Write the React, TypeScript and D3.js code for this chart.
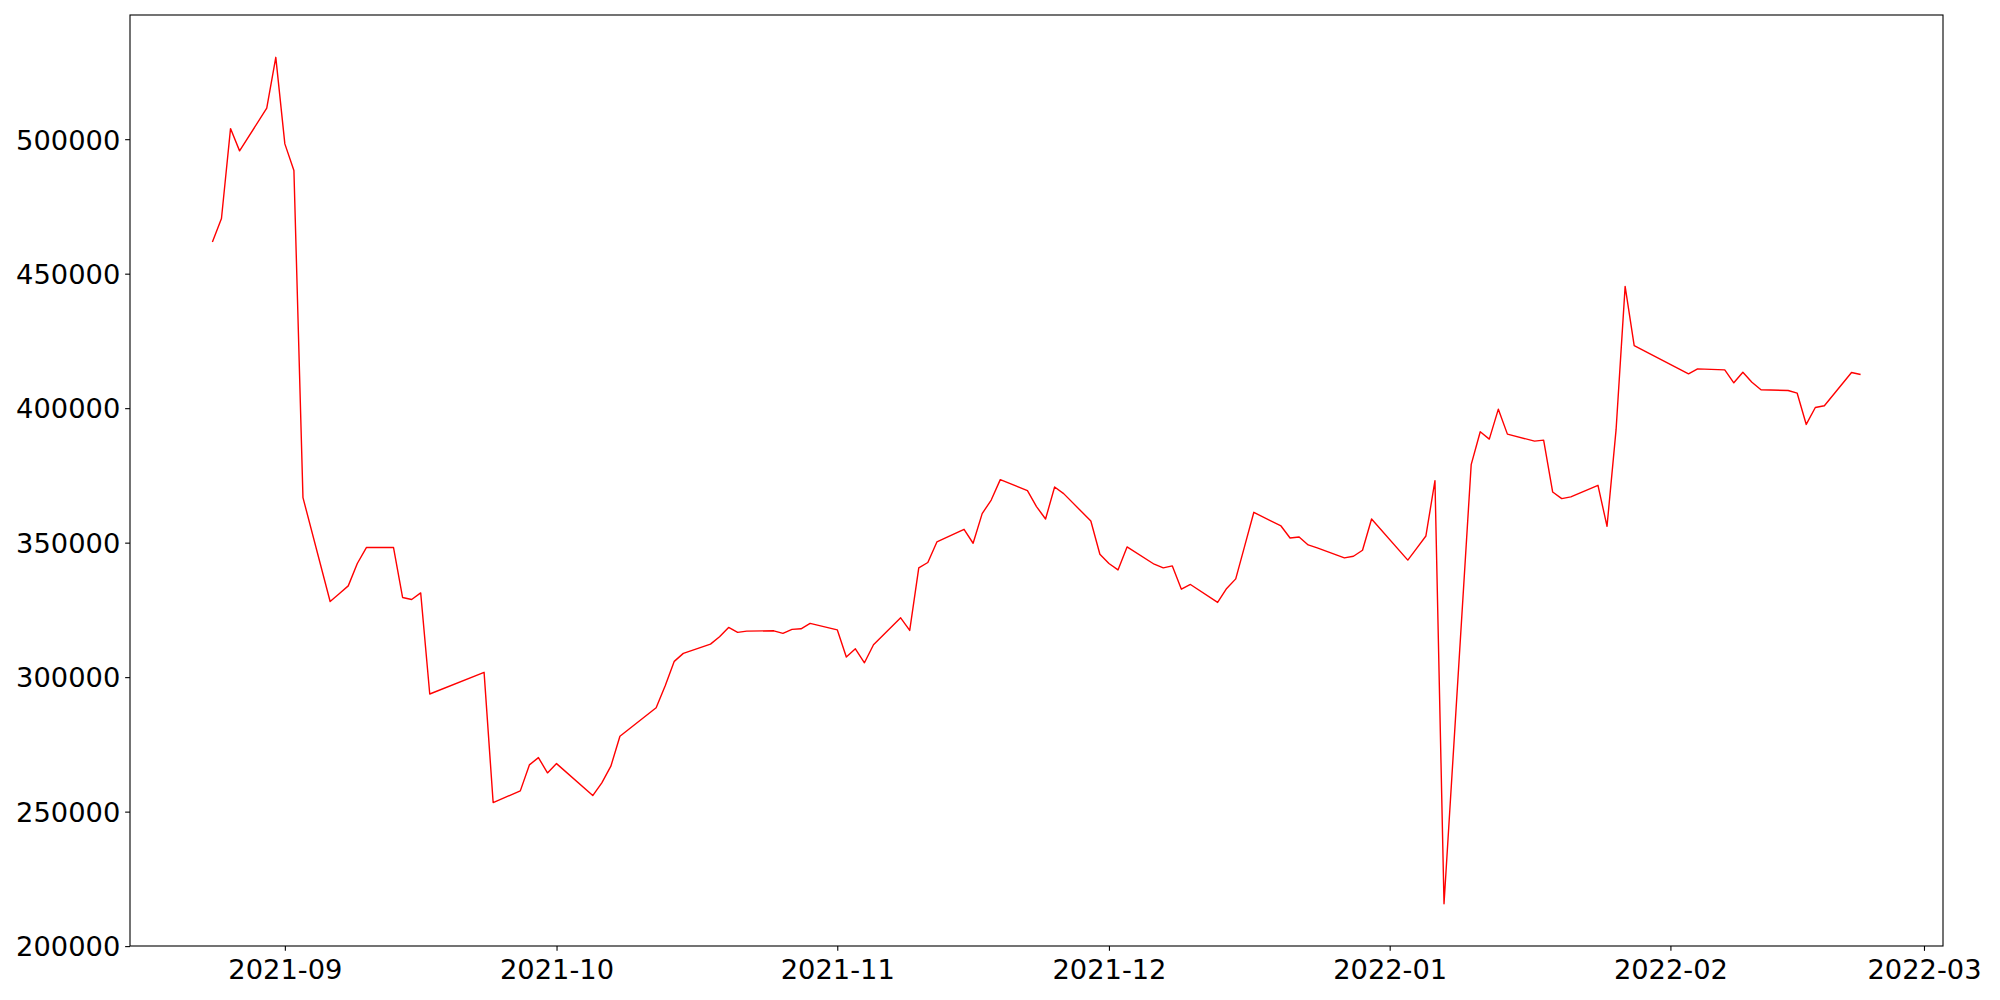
import * as d3 from 'd3';
import { useEffect, useRef } from 'react';

// closing prices, business days only
const dates = [
  '2021-08-24', '2021-08-25', '2021-08-26', '2021-08-27', '2021-08-30', '2021-08-31',
  '2021-09-01', '2021-09-02', '2021-09-03', '2021-09-06', '2021-09-07', '2021-09-08',
  '2021-09-09', '2021-09-10', '2021-09-13', '2021-09-14', '2021-09-15', '2021-09-16',
  '2021-09-17', '2021-09-23', '2021-09-24', '2021-09-27', '2021-09-28', '2021-09-29',
  '2021-09-30', '2021-10-01', '2021-10-05', '2021-10-06', '2021-10-07', '2021-10-08',
  '2021-10-12', '2021-10-13', '2021-10-14', '2021-10-15', '2021-10-18', '2021-10-19',
  '2021-10-20', '2021-10-21', '2021-10-22', '2021-10-25', '2021-10-26', '2021-10-27',
  '2021-10-28', '2021-10-29', '2021-11-01', '2021-11-02', '2021-11-03', '2021-11-04',
  '2021-11-05', '2021-11-08', '2021-11-09', '2021-11-10', '2021-11-11', '2021-11-12',
  '2021-11-15', '2021-11-16', '2021-11-17', '2021-11-18', '2021-11-19', '2021-11-22',
  '2021-11-23', '2021-11-24', '2021-11-25', '2021-11-26', '2021-11-29', '2021-11-30',
  '2021-12-01', '2021-12-02', '2021-12-03', '2021-12-06', '2021-12-07', '2021-12-08',
  '2021-12-09', '2021-12-10', '2021-12-13', '2021-12-14', '2021-12-15', '2021-12-16',
  '2021-12-17', '2021-12-20', '2021-12-21', '2021-12-22', '2021-12-23', '2021-12-24',
  '2021-12-27', '2021-12-28', '2021-12-29', '2021-12-30', '2022-01-03', '2022-01-04',
  '2022-01-05', '2022-01-06', '2022-01-07', '2022-01-10', '2022-01-11', '2022-01-12',
  '2022-01-13', '2022-01-14', '2022-01-17', '2022-01-18', '2022-01-19', '2022-01-20',
  '2022-01-21', '2022-01-24', '2022-01-25', '2022-01-26', '2022-01-27', '2022-01-28',
  '2022-02-03', '2022-02-04', '2022-02-07', '2022-02-08', '2022-02-09', '2022-02-10',
  '2022-02-11', '2022-02-14', '2022-02-15', '2022-02-16', '2022-02-17', '2022-02-18',
  '2022-02-21', '2022-02-22',
];

const prices = [
  461767, 470527, 503935, 495657, 511507, 530438,
  498255, 488344, 366741, 328137, 331030, 333928,
  342242, 348181, 348181, 329621, 328879, 331329,
  293727, 301782, 253378, 257721, 267372, 270082,
  264403, 267855, 255976, 260690, 266889, 278025,
  288641, 296808, 305865, 308834, 312286, 314996,
  318486, 316630, 317112, 317223, 316258, 317743,
  317966, 319970, 317595, 307461, 310542, 305345,
  312027, 322049, 317372, 340609, 342613, 350260,
  354974, 349777, 360802, 365850, 373423, 369340,
  363400, 358797, 370676, 368226, 358055, 345694,
  342242, 339866, 348404, 341982, 340609, 341351,
  332702, 334447, 327766, 332962, 336526, 348900,
  361284, 356199, 351744, 352116, 349146, 348033,
  344321, 344952, 347179, 358797, 343503, 347958,
  352487, 373051, 215776, 378990, 391240, 388493,
  399629, 390349, 387751, 388122, 368820, 366370,
  367038, 371307, 356088, 392000, 445286, 423274,
  412769, 414625, 414254, 409428, 413363, 409651,
  406830, 406570, 405568, 393949, 400260, 400891,
  413252, 412509,
];

const yTicks = [200000, 250000, 300000, 350000, 400000, 450000, 500000];
const xTicks = ['2021-09-01', '2021-10-01', '2021-11-01', '2021-12-01', '2022-01-01', '2022-02-01', '2022-03-01'];

export default function App() {
  const svgRef = useRef<SVGSVGElement | null>(null);

  useEffect(() => {
    if (!svgRef.current) return;

    const width = 2000;
    const height = 1000;
    const margin = { top: 15, right: 57, bottom: 54, left: 130 };
    const fontSize = 27.3;
    const tick = 4.86;

    const parse = d3.utcParse('%Y-%m-%d');
    const data = dates.map((d, i) => ({ date: parse(d) as Date, value: prices[i] }));

    const svg = d3.select(svgRef.current);
    svg.selectAll('*').remove();

    // matplotlib style 5% padding on both axes
    const [t0, t1] = d3.extent(data, d => d.date) as [Date, Date];
    const tPad = (t1.getTime() - t0.getTime()) * 0.05;
    const xScale = d3.scaleUtc()
      .domain([new Date(t0.getTime() - tPad), new Date(t1.getTime() + tPad)])
      .range([margin.left, width - margin.right]);

    const [v0, v1] = d3.extent(data, d => d.value) as [number, number];
    const vPad = (v1 - v0) * 0.05;
    const yScale = d3.scaleLinear()
      .domain([v0 - vPad, v1 + vPad])
      .range([height - margin.bottom, margin.top]);

    const xAxis = d3.axisBottom(xScale)
      .tickValues(xTicks.map(d => parse(d) as Date))
      .tickFormat(d => d3.utcFormat('%Y-%m')(d as Date))
      .tickSize(tick)
      .tickPadding(tick);

    const yAxis = d3.axisLeft(yScale)
      .tickValues(yTicks)
      .tickFormat(d => String(d))
      .tickSize(tick)
      .tickPadding(tick);

    const gx = svg.append('g')
      .attr('transform', `translate(0,${height - margin.bottom})`)
      .call(xAxis);
    gx.select('.domain').remove();
    gx.selectAll('line').attr('stroke', '#000').attr('stroke-width', 1.1);
    gx.selectAll('text')
      .attr('fill', '#000')
      .attr('dy', '0.84em')
      .style('font-family', 'DejaVu Sans')
      .style('font-size', `${fontSize}px`);

    const gy = svg.append('g')
      .attr('transform', `translate(${margin.left},0)`)
      .call(yAxis);
    gy.select('.domain').remove();
    gy.selectAll('line').attr('stroke', '#000').attr('stroke-width', 1.1);
    gy.selectAll('text')
      .attr('fill', '#000')
      .attr('dy', '0.36em')
      .style('font-family', 'DejaVu Sans')
      .style('font-size', `${fontSize}px`);

    // price line
    const line = d3.line<{ date: Date; value: number }>()
      .x(d => xScale(d.date))
      .y(d => yScale(d.value));

    svg.append('path')
      .datum(data)
      .attr('fill', 'none')
      .attr('stroke', '#ff0000')
      .attr('stroke-width', 1.4)
      .attr('stroke-linejoin', 'round')
      .attr('d', line);

    // frame
    svg.append('rect')
      .attr('x', margin.left)
      .attr('y', margin.top)
      .attr('width', width - margin.left - margin.right)
      .attr('height', height - margin.top - margin.bottom)
      .attr('fill', 'none')
      .attr('stroke', '#000')
      .attr('stroke-width', 1.1);
  }, []);

  return (
    <svg
      ref={svgRef}
      width={2000}
      height={1000}
      style={{ position: 'absolute', left: 0, top: 0, background: '#fff' }}
    />
  );
}
